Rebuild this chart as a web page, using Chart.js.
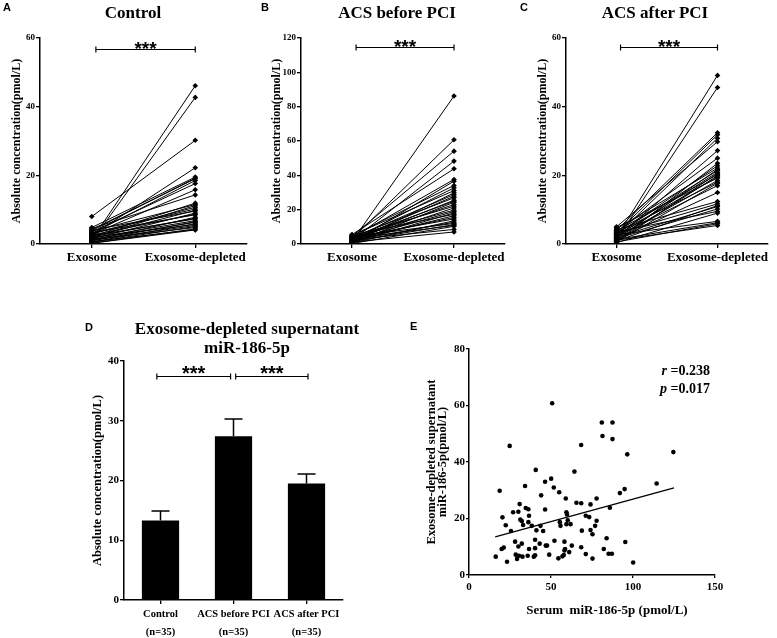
<!DOCTYPE html>
<html>
<head>
<meta charset="utf-8">
<script src="https://cdn.jsdelivr.net/npm/chart.js@4.4.1/dist/chart.umd.min.js"></script>
<style>
  html, body { margin: 0; padding: 0; background: #fff; }
  body { width: 777px; height: 638px; position: relative; overflow: hidden; font-family: "Liberation Serif", serif; color: #000; }
  .pane { position: absolute; }
  .letter { position: absolute; font: bold 11px "Liberation Sans", Arial, sans-serif; line-height: 11px; }
  .ttl { position: absolute; font-weight: bold; font-size: 17px; line-height: 19px; text-align: center; white-space: nowrap; transform: translate(-50%, -50%); }
  .stat { position: absolute; font-weight: bold; font-size: 14px; line-height: 18px; text-align: right; white-space: nowrap; }
  .xt { position: absolute; font-weight: bold; font-size: 13px; white-space: pre; transform: translate(-50%, -50%); }
</style>
</head>
<body>

<div class="pane" style="left:0;top:0"><canvas id="chart-a" width="258" height="280"></canvas></div>
<div class="pane" style="left:260px;top:0"><canvas id="chart-b" width="258" height="280"></canvas></div>
<div class="pane" style="left:517px;top:0"><canvas id="chart-c" width="260" height="280"></canvas></div>
<div class="pane" style="left:0;top:300px"><canvas id="chart-d" width="400" height="338"></canvas></div>
<div class="pane" style="left:400px;top:300px"><canvas id="chart-e" width="377" height="338"></canvas></div>

<div class="letter" style="left:3px;top:2px">A</div>
<div class="letter" style="left:261px;top:2px">B</div>
<div class="letter" style="left:520px;top:2px">C</div>
<div class="letter" style="left:85px;top:322px">D</div>
<div class="letter" style="left:410px;top:321px">E</div>

<div class="ttl" style="left:133px;top:12px">Control</div>
<div class="ttl" style="left:397px;top:12px">ACS before PCI</div>
<div class="ttl" style="left:655px;top:12px">ACS after PCI</div>
<div class="ttl" style="left:247px;top:338px">Exosome-depleted supernatant<br>miR-186-5p</div>

<div class="stat" style="right:67px;top:362px"><i>r</i> =0.238<br><i>p</i> =0.017</div>
<div class="xt" style="left:607px;top:610px">Serum  miR-186-5p (pmol/L)</div>

<script>
/* ---- Data ---- */
const pairLabels = ["Exosome", "Exosome-depleted"];

// A: Control
const ctrlExosome  = [1.2, 0.8, 8.0, 2.5, 4.8, 3.9, 4.2, 3.0, 3.5, 2.8, 4.5, 2.2, 3.7, 1.8, 2.9, 3.2, 2.0, 4.0, 1.5, 2.6, 3.3, 1.0, 2.1, 2.4, 1.7, 0.9, 1.4, 0.6, 1.9, 1.1, 0.5, 1.3, 0.3, 0.7, 0.2];
const ctrlDepleted = [46.1, 42.7, 30.2, 22.2, 19.5, 19.2, 19.0, 18.5, 17.6, 15.8, 14.3, 11.9, 11.5, 11.2, 10.7, 10.2, 9.8, 9.6, 9.0, 8.7, 8.5, 7.8, 7.5, 7.3, 6.8, 6.5, 6.3, 5.9, 5.7, 5.4, 5.1, 4.8, 4.4, 4.2, 4.1];

// B: ACS before PCI
const preExosome  = [1.5, 3.0, 4.5, 2.0, 5.5, 3.8, 1.0, 4.8, 2.6, 5.0, 0.8, 3.4, 2.2, 4.0, 1.8, 3.1, 0.5, 2.8, 4.4, 1.2, 3.6, 2.4, 0.9, 5.2, 1.6, 2.9, 3.9, 0.6, 2.0, 4.2, 1.4, 3.3, 0.3, 2.5, 1.1];
const preDepleted = [86.2, 60.7, 54.1, 48.3, 43.8, 37.6, 36.6, 34.1, 32.7, 31.1, 29.8, 28.8, 27.8, 26.9, 25.5, 24.9, 24.3, 23.0, 22.0, 21.0, 19.7, 18.9, 18.1, 17.3, 16.5, 15.5, 14.6, 13.5, 12.7, 12.0, 11.3, 10.8, 10.3, 8.5, 7.0];

// C: ACS after PCI
const postExosome  = [2.0, 1.2, 4.0, 3.2, 2.5, 5.0, 1.8, 3.6, 0.8, 2.8, 4.4, 1.5, 3.0, 2.2, 0.5, 3.8, 1.0, 2.6, 4.8, 1.9, 3.4, 0.7, 2.3, 1.4, 4.2, 3.1, 0.9, 2.0, 1.6, 3.5, 0.4, 2.7, 1.3, 0.6, 1.1];
const postDepleted = [49.1, 45.6, 32.4, 31.8, 30.8, 29.8, 27.2, 25.0, 23.5, 22.8, 22.1, 21.7, 21.4, 20.9, 20.6, 20.2, 19.9, 19.5, 19.2, 18.5, 18.0, 17.7, 17.0, 15.0, 12.4, 11.7, 11.2, 10.9, 10.2, 9.5, 9.0, 6.6, 6.2, 5.9, 5.4];

// D: bar chart (mean + SEM)
const groups    = ["Control", "ACS before PCI", "ACS after PCI"];
const groupN    = ["(n=35)", "(n=35)", "(n=35)"];
const groupMean = [13.3, 27.4, 19.5];
const groupSem  = [1.6, 2.9, 1.6];

// E: scatter
const serumX = [16.3, 18.7, 20.4, 19.9, 21.2, 22.4, 23.2, 24.8, 25.6, 26.9,
                28.1, 28.5, 29.3, 30.1, 30.1, 30.5, 30.9, 31.3, 32.2, 32.2,
                32.6, 33.0, 34.2, 34.6, 35.8, 36.2, 36.2, 36.6, 36.6, 38.3,
                39.5, 40.3, 40.3, 40.7, 41.1, 40.3, 43.1, 43.6, 44.0, 45.2,
                46.4, 46.4, 46.8, 47.6, 48.9, 50.1, 50.7, 51.7, 52.1, 54.5,
                55.0, 55.4, 55.8, 57.0, 57.8, 58.2, 58.2, 58.6, 59.0, 59.4,
                59.8, 59.4, 60.2, 61.1, 61.9, 62.7, 64.3, 65.5, 68.4, 68.4,
                68.4, 68.8, 71.2, 71.2, 73.3, 74.1, 74.1, 75.3, 75.3, 76.9,
                77.8, 77.8, 81.0, 81.4, 82.2, 83.9, 85.1, 85.9, 87.1, 87.5,
                87.5, 92.0, 94.9, 95.3, 96.5, 100.1, 114.4, 124.6];
const depletedY = [6.5, 29.8, 20.4, 9.2, 9.7, 17.6, 4.7, 45.7, 15.6, 22.2,
                   11.8, 7.2, 5.7, 10.1, 22.4, 6.8, 25.1, 19.6, 19.1, 11.1,
                   6.5, 17.7, 31.5, 23.7, 6.8, 23.3, 18.7, 21.0, 9.2, 17.4,
                   6.5, 9.5, 12.5, 37.2, 15.8, 7.0, 11.1, 17.4, 28.2, 15.6,
                   33.0, 23.2, 10.4, 10.4, 7.2, 34.1, 60.8, 31.0, 12.1, 5.9,
                   29.3, 18.7, 17.4, 6.6, 7.1, 11.8, 8.7, 9.2, 27.1, 22.2,
                   21.4, 18.0, 19.4, 8.1, 18.0, 10.4, 36.6, 25.6, 46.0, 25.4,
                   9.8, 15.7, 21.0, 7.4, 20.5, 25.0, 15.9, 14.4, 5.8, 17.4,
                   27.1, 19.2, 54.0, 49.2, 9.2, 13.0, 7.5, 23.8, 7.5, 54.0,
                   48.1, 29.0, 30.4, 11.7, 42.7, 4.4, 32.4, 43.5];
const fitX = [16, 125];
const fitY = [13.5, 30.8];

/* ---- Shared bits ---- */
const SERIF = '"Liberation Serif", "Times New Roman", serif';
const tickFont = (size) => ({ family: SERIF, weight: "bold", size: size });
const yTitle = "Absolute concentration(pmol/L)";

function fixWidth(w)  { return s => { s.width = w; }; }
function fixHeight(h) { return s => { s.height = h; }; }

function axisLines(tickLen) {
  return {
    grid:   { display: true, offset: false, drawOnChartArea: false, drawTicks: true, tickLength: tickLen, color: "#000", lineWidth: 1.3 },
    border: { display: true, color: "#000", width: 1.5 }
  };
}

// significance brackets + error bars
const marksPlugin = {
  id: "marks",
  afterDatasetsDraw(chart, args, opts) {
    const { ctx } = chart;
    const x = chart.scales.x, y = chart.scales.y;
    ctx.save();
    ctx.strokeStyle = "#000";
    ctx.fillStyle = "#000";

    if (opts.sem) {
      ctx.lineWidth = 1.5;
      const meta = chart.getDatasetMeta(0);
      meta.data.forEach((bar, i) => {
        const top = y.getPixelForValue(opts.mean[i] + opts.sem[i]);
        ctx.beginPath();
        ctx.moveTo(bar.x, bar.y);
        ctx.lineTo(bar.x, top);
        ctx.moveTo(bar.x - 9, top);
        ctx.lineTo(bar.x + 9, top);
        ctx.stroke();
      });
    }

    (opts.bars || []).forEach(b => {
      const x1 = x.getPixelForValue(b.from);
      const x2 = x.getPixelForValue(b.to);
      const yy = Math.round(y.getPixelForValue(b.y)) + 0.5;
      ctx.lineWidth = 1.2;
      ctx.beginPath();
      ctx.moveTo(x1, yy); ctx.lineTo(x2, yy);
      ctx.moveTo(x1, yy - 3); ctx.lineTo(x1, yy + 3);
      ctx.moveTo(x2, yy - 3); ctx.lineTo(x2, yy + 3);
      ctx.stroke();
      const fs = opts.starSize || 17;
      ctx.font = "bold " + fs + 'px "Liberation Sans", Arial, sans-serif';
      ctx.textAlign = "center";
      ctx.textBaseline = "alphabetic";
      ctx.fillText("***", (x1 + x2) / 2, yy - opts.gap + 0.58 * fs);
    });
    ctx.restore();
  }
};
Chart.register(marksPlugin);

/* ---- A, B, C: paired lines ---- */
function pairedChart(id, exo, dep, yMax, pad, yW, bracketY) {
  const datasets = exo.map((v, i) => ({
    data: [v, dep[i]],
    borderColor: "#000",
    borderWidth: 1,
    pointRadius: 2.8,
    pointBackgroundColor: "#000",
    pointBorderWidth: 0,
    pointStyle: "rectRot"
  }));
  return new Chart(document.getElementById(id), {
    type: "line",
    data: { labels: pairLabels, datasets: datasets },
    options: {
      responsive: false,
      animation: false,
      layout: { padding: pad },
      plugins: {
        legend: { display: false },
        tooltip: { enabled: false },
        marks: { bars: [{ from: 0.04, to: 1, y: bracketY }], gap: 6, starSize: 19 }
      },
      scales: {
        x: Object.assign({
          offset: true,
          ticks: { color: "#000", font: tickFont(13), padding: 2, maxRotation: 0, autoSkip: false },
          afterFit: fixHeight(36)
        }, axisLines(4)),
        y: Object.assign({
          min: 0, max: yMax,
          ticks: { color: "#000", font: tickFont(9), padding: 1, stepSize: 20 },
          title: { display: true, text: yTitle, color: "#000", font: { family: SERIF, weight: "bold", size: 12 }, padding: 0 },
          afterFit: fixWidth(yW)
        }, axisLines(4))
      }
    }
  });
}

pairedChart("chart-a", ctrlExosome, ctrlDepleted, 60,  { left: 10, top: 38, right: 11, bottom: 0 }, 30, 56.7);
pairedChart("chart-b", preExosome,  preDepleted,  120, { left: 10, top: 38, right: 13, bottom: 0 }, 31, 115);
pairedChart("chart-c", postExosome, postDepleted, 60,  { left: 19, top: 38, right: 9,  bottom: 0 }, 30, 57.5);

/* ---- D: bars ---- */
new Chart(document.getElementById("chart-d"), {
  type: "bar",
  data: {
    labels: groups.map((g, i) => [g, groupN[i]]),
    datasets: [{
      data: groupMean,
      backgroundColor: "#000",
      borderWidth: 0,
      categoryPercentage: 1,
      barPercentage: 0.51
    }]
  },
  options: {
    responsive: false,
    animation: false,
    layout: { padding: { left: 90, top: 61, right: 57, bottom: 0 } },
    plugins: {
      legend: { display: false },
      tooltip: { enabled: false },
      marks: {
        mean: groupMean, sem: groupSem,
        bars: [{ from: -0.05, to: 0.96, y: 37.5 }, { from: 1.03, to: 2.02, y: 37.5 }],
        gap: 8, starSize: 20
      }
    },
    scales: {
      x: Object.assign({
        ticks: { color: "#000", font: { family: SERIF, weight: "bold", size: 10.5, lineHeight: 1.65 }, padding: 2, maxRotation: 0, autoSkip: false },
        afterFit: fixHeight(38)
      }, axisLines(4)),
      y: Object.assign({
        min: 0, max: 40,
        ticks: { color: "#000", font: tickFont(11), padding: 1, stepSize: 10 },
        title: { display: true, text: yTitle, color: "#000", font: { family: SERIF, weight: "bold", size: 12.5 }, padding: 0 },
        afterFit: fixWidth(34)
      }, axisLines(4))
    }
  }
});

/* ---- E: scatter ---- */
new Chart(document.getElementById("chart-e"), {
  type: "scatter",
  data: {
    datasets: [
      {
        data: serumX.map((v, i) => ({ x: v, y: depletedY[i] })),
        pointRadius: 2.3,
        pointBackgroundColor: "#000",
        pointBorderWidth: 0
      },
      {
        type: "line",
        data: fitX.map((v, i) => ({ x: v, y: fitY[i] })),
        borderColor: "#000",
        borderWidth: 1.3,
        pointRadius: 0
      }
    ]
  },
  options: {
    responsive: false,
    animation: false,
    layout: { padding: { left: 26, top: 49, right: 62, bottom: 0 } },
    plugins: { legend: { display: false }, tooltip: { enabled: false } },
    scales: {
      x: Object.assign({
        type: "linear", min: 0, max: 150,
        ticks: { color: "#000", font: tickFont(11), padding: 3, stepSize: 50 },
        afterFit: fixHeight(63)
      }, axisLines(3)),
      y: Object.assign({
        min: 0, max: 80,
        ticks: { color: "#000", font: tickFont(11), padding: 1, stepSize: 20 },
        title: {
          display: true,
          text: ["Exosome-depleted supernatant", "miR-186-5p(pmol/L)"],
          color: "#000",
          font: { family: SERIF, weight: "bold", size: 12.5, lineHeight: 0.9 },
          padding: 0
        },
        afterFit: fixWidth(43)
      }, axisLines(3))
    }
  }
});
</script>
</body>
</html>
